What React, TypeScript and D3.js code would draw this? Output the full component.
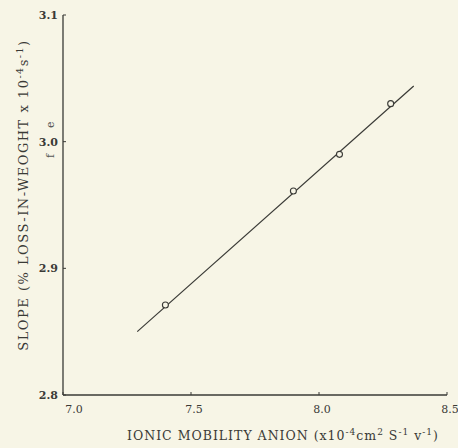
import React from 'react';
import * as d3 from 'd3';

// ionic mobility of anion vs slope of loss-in-weight
const mobility = [7.4, 7.9, 8.08, 8.28];
const slope = [2.871, 2.961, 2.99, 3.03];
// fitted line endpoints
const fitX = [7.29, 8.37];
const fitY = [2.85, 3.044];

const xTicks = [7.0, 7.5, 8.0, 8.5];
const yTicks = [2.8, 2.9, 3.0, 3.1];

const W = 458, H = 448;
const bg = '#f7f5e6';
const ink = '#3a3a36';
const font = '"DejaVu Serif", "Liberation Serif", serif';

const App = () => {
  const x = d3.scaleLinear().domain([7.0, 8.5]).range([63, 447]);
  const y = d3.scaleLinear().domain([2.8, 3.1]).range([395, 15]);

  const line = d3.line<number>()
    .x((d, i) => x(fitX[i]))
    .y(d => y(d));

  return (
    <div style={{ position: 'absolute', left: 0, top: 0 }}>
      <svg width={W} height={H} style={{ display: 'block', background: bg }}>
        {/* axes */}
        <line x1={x(7.0)} x2={x(7.0)} y1={y(3.1)} y2={y(2.8)} stroke={ink} strokeWidth={1.3} />
        <line x1={x(7.0)} x2={x(8.5)} y1={y(2.8)} y2={y(2.8)} stroke={ink} strokeWidth={1.3} />

        {yTicks.map(t => (
          <g key={'y' + t}>
            <line x1={x(7.0)} x2={x(7.0) + 3} y1={y(t)} y2={y(t)} stroke={ink} strokeWidth={1} />
            <text x={x(7.0) - 5} y={y(t) + 4} textAnchor="end" fontFamily={font} fontSize={11}
              fontWeight="bold" fill={ink}>{t.toFixed(1)}</text>
          </g>
        ))}

        {xTicks.map(t => (
          <g key={'x' + t}>
            <line x1={x(t)} x2={x(t)} y1={y(2.8)} y2={y(2.8) - 3} stroke={ink} strokeWidth={1} />
            <text x={x(t) + (t === 7.0 ? 11 : 3)} y={y(2.8) + 18} textAnchor="middle" fontFamily={font}
              fontSize={11} fill={ink}>{t.toFixed(1)}</text>
          </g>
        ))}

        {/* fitted line */}
        <path d={line(fitY) || ''} fill="none" stroke={ink} strokeWidth={1.2} />

        {/* data points */}
        {mobility.map((m, i) => (
          <circle key={i} cx={x(m)} cy={y(slope[i])} r={3} fill={bg} stroke={ink} strokeWidth={1.1} />
        ))}

        {/* axis titles */}
        <text x={283} y={440} textAnchor="middle" fontFamily={font} fontSize={12.5} fill={ink}
          letterSpacing={1}>
          IONIC MOBILITY ANION (x10<tspan dy={-5} fontSize={9}>-4</tspan>
          <tspan dy={5}>cm</tspan><tspan dy={-5} fontSize={9}>2</tspan>
          <tspan dy={5}> S</tspan><tspan dy={-5} fontSize={9}>-1</tspan>
          <tspan dy={5}> v</tspan><tspan dy={-5} fontSize={9}>-1</tspan>
          <tspan dy={5}>)</tspan>
        </text>

        <text transform="translate(28,195) rotate(-90)" textAnchor="middle" fontFamily={font}
          fontSize={13} fill={ink} letterSpacing={1.5}>
          SLOPE (% LOSS-IN-WEOGHT x 10<tspan dy={-5} fontSize={9.5}>-4</tspan>
          <tspan dy={5}>s</tspan><tspan dy={-5} fontSize={9.5}>-1</tspan>
          <tspan dy={5}>)</tspan>
        </text>

        {/* bleed-through marks from the scanned page */}
        <text transform="translate(54,128) rotate(-90)" fontFamily={font} fontSize={11} fill="#555">e</text>
        <text transform="translate(54,158) rotate(-90)" fontFamily={font} fontSize={11} fill="#555">f</text>
      </svg>
    </div>
  );
};

export default App;
